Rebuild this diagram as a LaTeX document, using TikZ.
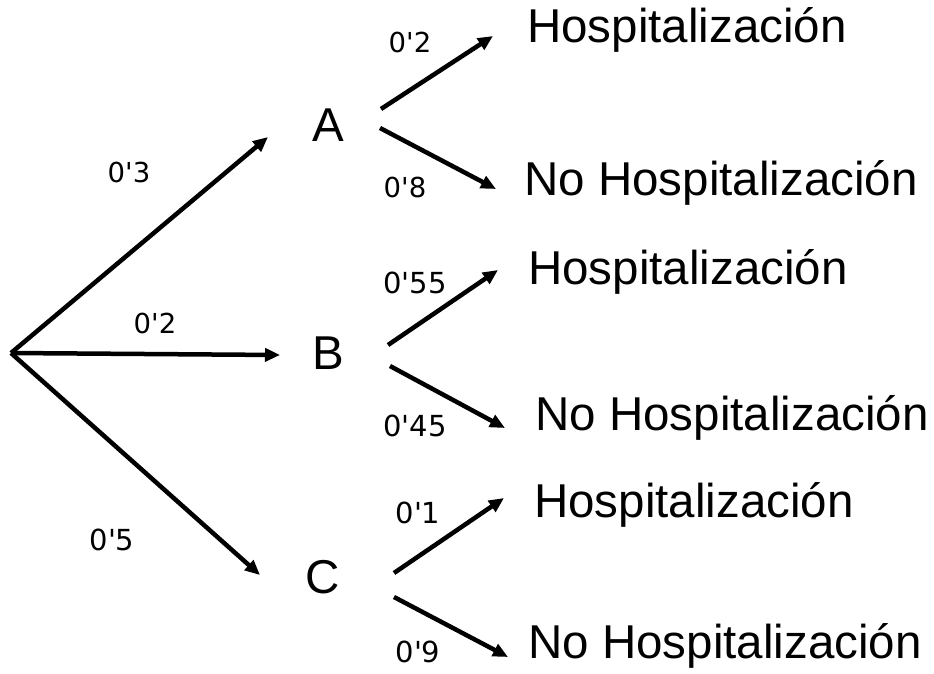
\documentclass[tikz,border=0pt]{standalone}
\usepackage{fontspec}
\setmainfont{Liberation Sans}
\newfontfamily\lblfont{DejaVu Sans}
\usetikzlibrary{arrows.meta}
\begin{document}
\begin{tikzpicture}[x=1pt,y=-1pt,
  arr/.style={line width=4.5pt,-{Triangle[length=15pt,width=13pt]}},
  big/.style={inner sep=0pt,font=\fontsize{47.5}{52}\selectfont},
  prob/.style={inner sep=0pt,font=\lblfont\fontsize{27.5}{30}\selectfont},
  probb/.style={inner sep=0pt,font=\lblfont\fontsize{29}{32}\selectfont}]
\useasboundingbox (0,0) rectangle (934,673);
% root and tips
\coordinate (root) at (11,353);
\coordinate (tA) at (268,137);
\coordinate (tB) at (280,355);
\coordinate (tC) at (260,575);
\draw[arr] (root) -- (tA);
\draw[arr] (root) -- (tB);
\draw[arr] (root) -- (tC);
% letters
\node[big] (A) at (328,125) {A};
\node[big] (B) at (328,353) {B};
\node[big] (C) at (323,577) {C};
% outcomes
\node[big] (A1) at (687,30) {Hospitalización};
\node[big] (A2) at (721,183) {No Hospitalización};
\node[big] (B1) at (688,272) {Hospitalización};
\node[big] (B2) at (732,418) {No Hospitalización};
\node[big] (C1) at (694,505) {Hospitalización};
\node[big] (C2) at (725,646) {No Hospitalización};
% second level arrows
\coordinate (sA1) at (381,109); \coordinate (eA1) at (493,36);
\coordinate (sA2) at (380,128); \coordinate (eA2) at (496,189);
\coordinate (sB1) at (388,345); \coordinate (eB1) at (498,270);
\coordinate (sB2) at (390,366); \coordinate (eB2) at (505,428);
\coordinate (sC1) at (394,573); \coordinate (eC1) at (504,498);
\coordinate (sC2) at (394,597); \coordinate (eC2) at (508,657);
\foreach \s/\e in {sA1/eA1,sA2/eA2,sB1/eB1,sB2/eB2,sC1/eC1,sC2/eC2}
  \draw[arr] (\s) -- (\e);
% probabilities
\node[prob] (p3) at (129,172) {0'3};
\node[prob] (p2) at (155,323) {0'2};
\node[probb] (p5) at (112,540) {0'5};
\node[prob] (pA1) at (410,42) {0'2};
\node[prob] (pA2) at (405,187) {0'8};
\node[probb] (pB1) at (415,283) {0'55};
\node[probb] (pB2) at (415,426) {0'45};
\node[probb] (pC1) at (418,513) {0'1};
\node[probb] (pC2) at (418,652) {0'9};
\end{tikzpicture}
\end{document}
